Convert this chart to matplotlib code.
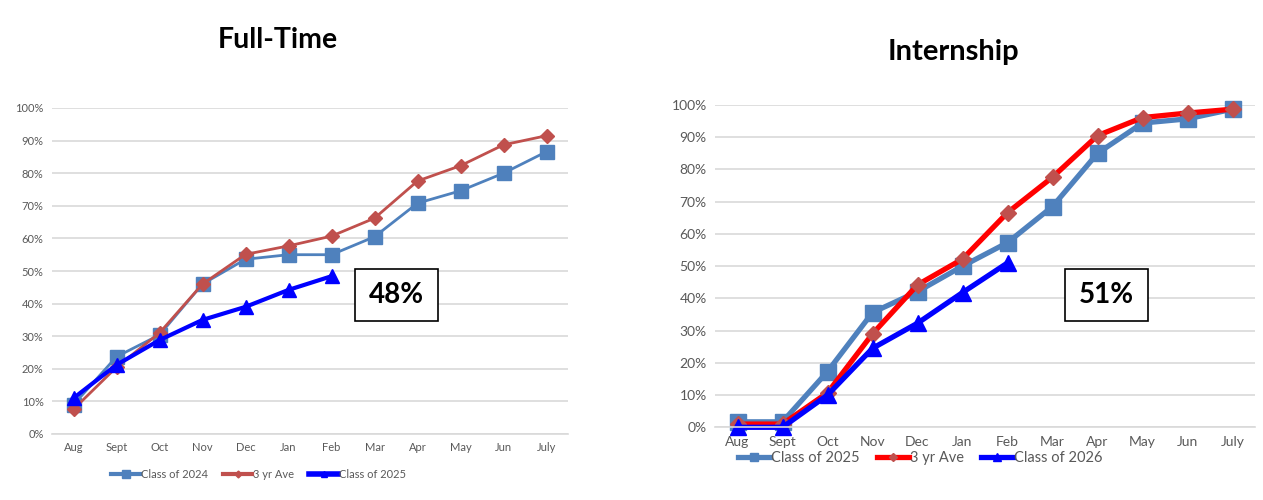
import numpy as np
import matplotlib
matplotlib.use("Agg")
import matplotlib.pyplot as plt
from matplotlib.patches import Rectangle

plt.rcParams["font.family"] = ["Lato", "DejaVu Sans"]

months = ["Aug", "Sept", "Oct", "Nov", "Dec", "Jan", "Feb", "Mar", "Apr", "May", "Jun", "July"]

# Full-Time
ft_class_2024 = [0.09, 0.237, 0.304, 0.46, 0.536, 0.55, 0.55, 0.605, 0.708, 0.746, 0.80, 0.866]
ft_3yr_ave = [0.076, 0.205, 0.31, 0.46, 0.551, 0.577, 0.607, 0.662, 0.776, 0.823, 0.887, 0.915]
ft_class_2025 = [0.11, 0.212, 0.288, 0.35, 0.39, 0.442, 0.484]
ft_current = "48%"

# Internship
in_class_2025 = [0.017, 0.017, 0.173, 0.356, 0.421, 0.50, 0.573, 0.685, 0.85, 0.944, 0.957, 0.987]
in_3yr_ave = [0.01, 0.01, 0.107, 0.29, 0.442, 0.522, 0.666, 0.776, 0.905, 0.961, 0.975, 0.987]
in_class_2026 = [0.0, 0.0, 0.10, 0.245, 0.323, 0.418, 0.51]
in_current = "51%"

W, H = 1263, 500
fig = plt.figure(figsize=(W / 100, H / 100), dpi=100)

grid_c = "#d9d9d9"
tick_c = "#595959"


def setup_axes(ax, fs):
    ax.set_xlim(-0.5, len(months) - 0.5)
    ax.set_ylim(0, 1.0)
    ax.set_yticks(np.arange(0, 1.01, 0.1))
    ax.set_yticklabels([f"{int(round(v * 100))}%" for v in np.arange(0, 1.01, 0.1)])
    ax.set_xticks(range(len(months)))
    ax.set_xticklabels(months)
    ax.tick_params(length=0, labelsize=fs, colors=tick_c, pad=6)
    ax.grid(axis="y", color=grid_c, linewidth=1.2)
    ax.set_axisbelow(True)
    for s in ["top", "right", "left"]:
        ax.spines[s].set_visible(False)
    ax.spines["bottom"].set_color(grid_c)
    ax.spines["bottom"].set_linewidth(1.2)


def box_label(cx, cy, w, h, txt):
    fig.patches.append(Rectangle(((cx - w / 2) / W, 1 - (cy + h / 2) / H), w / W, h / H,
                                 transform=fig.transFigure, facecolor="white",
                                 edgecolor="black", linewidth=1.2))
    fig.text(cx / W, 1 - cy / H, txt, ha="center", va="center",
             fontsize=20, fontweight="bold", color="black")


# left chart
ax1 = fig.add_axes([52 / W, 1 - 434 / H, 516 / W, 326 / H])
setup_axes(ax1, 8)
x = np.arange(len(months))
ax1.plot(x, ft_class_2024, color="#4f81bd", lw=2, marker="s", ms=10.5, label="Class of 2024", clip_on=False)
ax1.plot(x, ft_3yr_ave, color="#c0504d", lw=2, marker="D", ms=7, label="3 yr Ave", clip_on=False)
ax1.plot(x[:len(ft_class_2025)], ft_class_2025, color="#0000ff", lw=3, marker="^", ms=10,
         label="Class of 2025", clip_on=False)
leg1 = ax1.legend(loc="center", bbox_to_anchor=(0.40, -0.125), ncol=3, frameon=False, fontsize=8,
                  handlelength=2.6, handletextpad=0.05, columnspacing=1.4, labelcolor=tick_c,
                  markerscale=0.5)
for h in leg1.legend_handles:
    h.set_linewidth(h.get_linewidth() + 1)
fig.text(278 / W, 1 - 40 / H, "Full-Time", ha="center", va="center", fontsize=20.5, fontweight="bold")
box_label(396.5, 295, 83, 52, ft_current)

# right chart
ax2 = fig.add_axes([715 / W, 1 - 427.3 / H, 540 / W, 322.3 / H])
setup_axes(ax2, 10)
ax2.plot(x, in_class_2025, color="#4f81bd", lw=3.8, marker="s", ms=12, label="Class of 2025", clip_on=False)
ax2.plot(x, in_3yr_ave, color="#ff0000", lw=3.8, marker="D", ms=8.5, mfc="#c0504d", mec="#c0504d",
         label="3 yr Ave", clip_on=False)
ax2.plot(x[:len(in_class_2026)], in_class_2026, color="#0000ff", lw=3.8, marker="^", ms=12,
         label="Class of 2026", clip_on=False)
ax2.legend(loc="center", bbox_to_anchor=(0.38, -0.095), ncol=3, frameon=False, fontsize=10.5,
           handlelength=2.2, handletextpad=0.05, columnspacing=1.2, labelcolor=tick_c,
           markerscale=0.5)
fig.text(953 / W, 1 - 52 / H, "Internship", ha="center", va="center", fontsize=21, fontweight="bold")
box_label(1106, 295, 83, 52, in_current)

fig.savefig("out.png", dpi=100)
